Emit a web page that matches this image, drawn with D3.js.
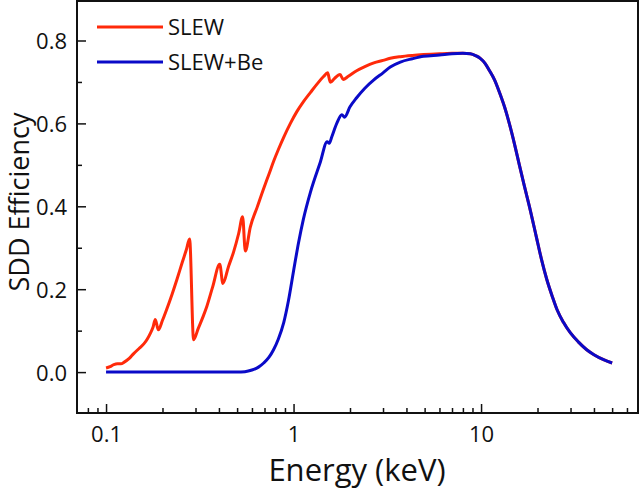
<!DOCTYPE html>
<html>
<head>
<meta charset="utf-8">
<script src="https://cdn.jsdelivr.net/npm/d3@7/dist/d3.min.js"></script>
<style>
html,body{margin:0;padding:0;background:#fff;}
svg{display:block;font-family:"Open Sans",sans-serif;}
</style>
</head>
<body>
<svg id="chart" width="640" height="490"></svg>
<script>
// ---- data ----
const seriesNames = ["SLEW", "SLEW+Be"];
const seriesColors = ["#ff2a0a", "#0a0ac8"];

const slewE = [0.1,0.105,0.11,0.115,0.12,0.125,0.133,0.14,0.15,0.159,0.166,0.172,0.178,0.183,0.19,0.2,0.21,0.225,0.239,0.255,0.268,0.279,0.293,0.31,0.33,0.345,0.37,0.404,0.42,0.45,0.479,0.51,0.535,0.553,0.588,0.64,0.693,0.74,0.782,0.83,0.887,0.962,1.043,1.127,1.232,1.34,1.445,1.52,1.57,1.65,1.77,1.84,1.95,2.17,2.4,2.68,3.0,3.28,3.71,4.3,4.93,6.0,7.0,8.0,8.76,9.4,9.9,10.5,11.1,11.8,12.6,13.4,14.2,15.1,16.0,17.0,18.1,19.7,21.0,22.4,24.0,25.4,27.5,29.9,33.0,36.6,40.0,45.0,50.0];
const slewV = [0.010,0.013,0.018,0.020,0.020,0.024,0.033,0.044,0.057,0.068,0.080,0.093,0.108,0.127,0.102,0.125,0.150,0.188,0.224,0.265,0.295,0.321,0.078,0.105,0.135,0.159,0.205,0.260,0.214,0.255,0.290,0.335,0.375,0.292,0.350,0.398,0.443,0.478,0.508,0.537,0.567,0.600,0.629,0.652,0.675,0.696,0.713,0.722,0.699,0.708,0.718,0.706,0.713,0.727,0.737,0.746,0.752,0.757,0.761,0.764,0.766,0.768,0.769,0.769,0.768,0.763,0.757,0.745,0.727,0.705,0.672,0.637,0.597,0.549,0.500,0.450,0.400,0.327,0.272,0.224,0.182,0.151,0.120,0.095,0.073,0.054,0.042,0.030,0.022];

const beE = [0.1,0.2,0.3,0.4,0.5,0.55,0.6,0.65,0.693,0.74,0.782,0.83,0.887,0.939,1.0,1.063,1.127,1.232,1.39,1.51,1.55,1.6,1.7,1.81,1.87,2.0,2.17,2.4,2.68,3.0,3.28,3.71,4.3,4.93,6.0,7.0,8.0,8.76,9.4,9.9,10.5,11.1,11.8,12.6,13.4,14.2,15.1,16.0,17.0,18.1,19.7,21.0,22.4,24.0,25.4,27.5,29.9,33.0,36.6,40.0,45.0,50.0];
const beV = [0,0,0,0,0,0.001,0.005,0.012,0.022,0.036,0.054,0.080,0.120,0.172,0.244,0.312,0.368,0.435,0.507,0.556,0.552,0.568,0.600,0.621,0.615,0.640,0.662,0.685,0.705,0.722,0.736,0.748,0.756,0.762,0.765,0.768,0.769,0.768,0.763,0.757,0.745,0.727,0.705,0.672,0.637,0.597,0.549,0.500,0.450,0.400,0.327,0.272,0.224,0.182,0.151,0.120,0.095,0.073,0.054,0.042,0.030,0.022];

const xTickValues = [0.1, 1, 10];
const xTickLabels = ["0.1", "1", "10"];
const yTickValues = [0.0, 0.2, 0.4, 0.6, 0.8];
const yTickLabels = ["0.0", "0.2", "0.4", "0.6", "0.8"];
const xTitle = "Energy (keV)";
const yTitle = "SDD Efficiency";

// ---- layout ----
const svg = d3.select("#chart");
const L = 77, R = 638, T = 1, B = 413;

const x = d3.scaleLog().domain([0.07, 68.7]).range([L, R]);
const y = d3.scaleLinear().domain([-0.1, 0.9]).range([413.55, -0.95]);

// minor ticks
const xMinor = [];
[0.01, 0.1, 1, 10].forEach(d => { for (let k = 2; k <= 9; k++) { const v = d * k; if (v > 0.07 && v < 68.7) xMinor.push(v); } });
const yMinor = [0.1, 0.3, 0.5, 0.7];

const g = svg.append("g");

// curves
const line = d3.line().x(d => x(d[0])).y(d => y(d[1])).curve(d3.curveMonotoneX);
const slewData = slewE.map((e, i) => [e, slewV[i]]);
const beData = beE.map((e, i) => [e, beV[i]]);

g.append("path").datum(slewData).attr("d", line)
  .attr("fill", "none").attr("stroke", seriesColors[0]).attr("stroke-width", 3).attr("stroke-linejoin", "round");
g.append("path").datum(beData).attr("d", line)
  .attr("fill", "none").attr("stroke", seriesColors[1]).attr("stroke-width", 3).attr("stroke-linejoin", "round");

// x axis (ticks inward)
const xAxis = d3.axisBottom(x).tickValues(xTickValues).tickFormat((d, i) => xTickLabels[i]).tickSizeInner(-9).tickSizeOuter(0).tickPadding(0);
const xg = svg.append("g").attr("transform", `translate(0,${B})`).call(xAxis);
xg.select(".domain").remove();
xg.selectAll(".tick line").attr("stroke", "#111").attr("stroke-width", 1.5);
xg.selectAll(".tick text").attr("font-size", 22).attr("fill", "#111").attr("font-family", "Open Sans").attr("y", 29).attr("dy", 0);
const xmg = svg.append("g").attr("transform", `translate(0,${B})`).call(d3.axisBottom(x).tickValues(xMinor).tickFormat("").tickSizeInner(-5).tickSizeOuter(0));
xmg.select(".domain").remove();
xmg.selectAll(".tick line").attr("stroke", "#111").attr("stroke-width", 1.5);

// y axis (ticks inward)
const yAxis = d3.axisLeft(y).tickValues(yTickValues).tickFormat((d, i) => yTickLabels[i]).tickSizeInner(-9).tickSizeOuter(0).tickPadding(0);
const yg = svg.append("g").attr("transform", `translate(${L},0)`).call(yAxis);
yg.select(".domain").remove();
yg.selectAll(".tick line").attr("stroke", "#111").attr("stroke-width", 1.5);
yg.selectAll(".tick text").attr("font-size", 22).attr("fill", "#111").attr("font-family", "Open Sans").attr("x", -10).attr("dy", "0.36em");
const ymg = svg.append("g").attr("transform", `translate(${L},0)`).call(d3.axisLeft(y).tickValues(yMinor).tickFormat("").tickSizeInner(-5).tickSizeOuter(0));
ymg.select(".domain").remove();
ymg.selectAll(".tick line").attr("stroke", "#111").attr("stroke-width", 1.5);

// frame
svg.append("rect").attr("x", L).attr("y", T).attr("width", R - L).attr("height", B - T)
  .attr("fill", "none").attr("stroke", "#111").attr("stroke-width", 2);

// titles
svg.append("text").attr("x", 357).attr("y", 481).attr("text-anchor", "middle")
  .attr("font-size", 31).attr("fill", "#111").text(xTitle);
svg.append("text").attr("transform", "translate(29,202) rotate(-90)").attr("text-anchor", "middle")
  .attr("font-size", 27).attr("fill", "#111").text(yTitle);

// legend
const leg = svg.append("g");
seriesNames.forEach((n, i) => {
  const yy = 27 + i * 35;
  leg.append("line").attr("x1", 97).attr("x2", 163).attr("y1", yy).attr("y2", yy)
    .attr("stroke", seriesColors[i]).attr("stroke-width", 3);
  leg.append("text").attr("x", 168).attr("y", yy).attr("dy", "0.36em")
    .attr("font-size", 22).attr("fill", "#111").text(n);
});
</script>
</body>
</html>
